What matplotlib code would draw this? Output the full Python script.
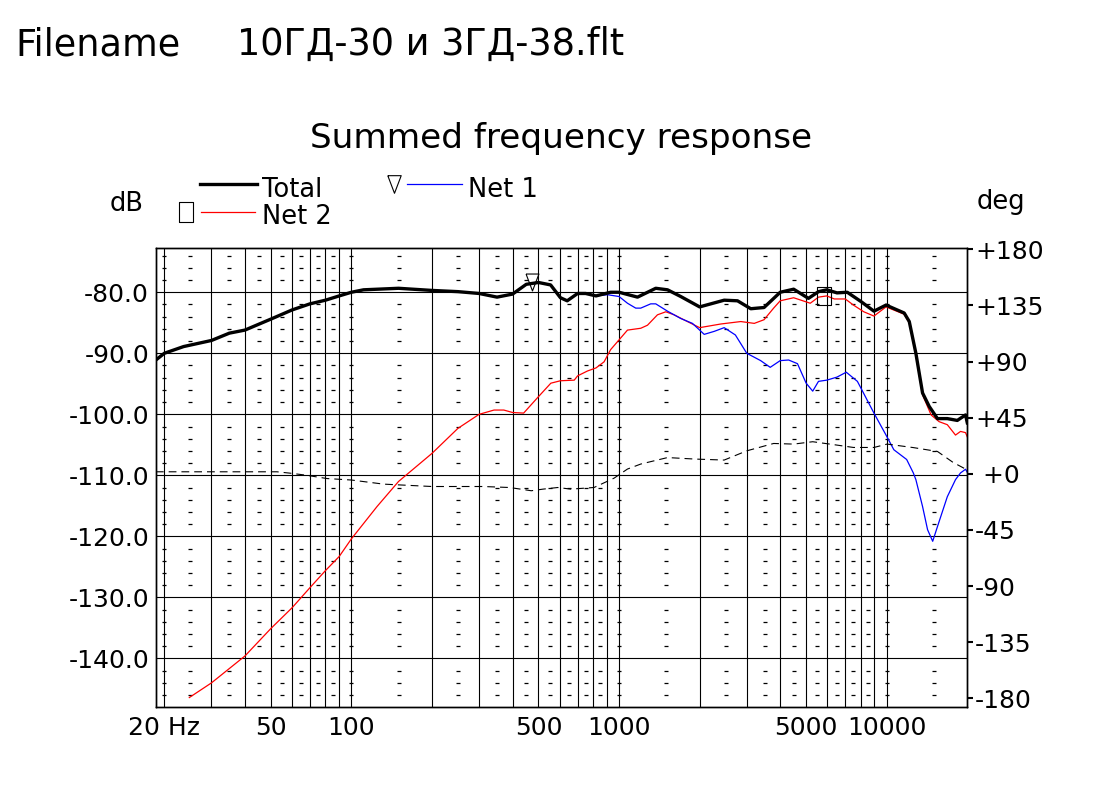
import numpy as np
import matplotlib

matplotlib.use('Agg')
import matplotlib.pyplot as plt

W, H = 1100, 794

# frequency response data (Hz, dB)
total_f = [18.6, 20, 23.6, 30, 35, 40, 50, 60, 70, 80, 90, 100, 111, 150, 200, 250,
           300, 350, 400, 450, 500, 555, 604, 640, 700, 750, 820, 930, 1000, 1172,
           1371, 1517, 1700, 2000, 2470, 2770, 3105, 3480, 4000, 4490, 5100, 5560,
           5970, 6520, 7120, 8000, 8960, 9940, 11620, 12140, 12850, 13610, 14410,
           15470, 16840, 18350, 19700, 20000]
total_db = [-91.1, -90.0, -88.9, -87.9, -86.7, -86.2, -84.4, -82.9, -81.9, -81.3,
            -80.6, -80.0, -79.6, -79.35, -79.7, -79.9, -80.2, -80.8, -80.3, -78.7,
            -78.4, -78.8, -80.9, -81.4, -80.2, -80.2, -80.6, -80.0, -80.0, -80.8,
            -79.35, -79.6, -80.7, -82.4, -81.3, -81.4, -82.7, -82.5, -80.0, -79.5,
            -81.0, -79.9, -79.6, -80.1, -80.0, -81.5, -83.1, -82.1, -83.4, -84.8,
            -90.0, -96.5, -98.7, -100.7, -100.7, -101.0, -100.1, -101.4]

# Net 1 follows Total below ~900 Hz
net1_hi_f = [905, 1000, 1075, 1154, 1205, 1313, 1371, 1517, 1700, 1880, 2080, 2270,
             2470, 2720, 3000, 3380, 3670, 4000, 4300, 4640, 5000, 5290, 5560, 5970,
             6520, 7060, 7770, 8960, 9940, 10630, 11870, 12570, 12850, 13610, 14210,
             14850, 15470, 16840, 18070, 18870, 19700, 20000]
net1_hi_db = [-80.4, -80.7, -81.8, -82.6, -82.6, -81.9, -81.9, -83.1, -84.3, -85.1,
              -86.9, -86.4, -85.8, -87.0, -90.0, -91.2, -92.3, -91.2, -91.1, -91.7,
              -94.9, -96.2, -94.6, -94.4, -93.9, -93.1, -94.6, -99.8, -103.4, -105.8,
              -107.4, -109.6, -110.7, -115.1, -118.9, -120.8, -118.4, -113.5, -110.7,
              -109.6, -109.0, -109.5]

net2_f = [24.8, 30, 40, 50, 60, 70, 80, 90, 100, 124.7, 150, 200, 250, 300, 341, 371,
          400, 440, 500, 556, 604, 680, 700, 762, 820, 879, 930, 1000, 1075, 1205,
          1277, 1391, 1495, 1606, 1800, 2000, 2400, 2850, 3200, 3480, 3780, 4000,
          4490, 5180, 5560, 5970, 6370, 7000, 7510, 8210, 8960, 9940, 11620, 12140,
          12850, 13610, 14650, 15690, 16840, 18070, 18870, 19700, 20000]
net2_db = [-146.4, -144.0, -139.6, -135.1, -131.7, -128.4, -125.6, -123.3, -120.4,
           -115.1, -111.0, -106.4, -102.3, -100.0, -99.3, -99.3, -99.7, -99.8, -97.1,
           -94.9, -94.5, -94.4, -93.7, -92.9, -92.4, -91.4, -89.4, -87.8, -86.2,
           -85.9, -85.4, -83.7, -83.2, -83.7, -84.8, -85.8, -85.2, -84.8, -85.1,
           -84.5, -82.6, -81.4, -80.9, -81.8, -80.8, -80.6, -81.1, -81.1, -82.1,
           -83.2, -83.9, -82.4, -83.6, -85.0, -90.3, -96.8, -100.1, -101.2, -101.7,
           -103.4, -102.8, -103.0, -103.7]

# phase (deg), dashed curve on the right axis
phase_f = [18.6, 52.7, 59, 67, 81, 100, 132, 200, 310, 390, 470, 520, 590, 660, 806,
           958, 1075, 1205, 1517, 1920, 2470, 3000, 3780, 4490, 5290, 6370, 7510,
           8960, 10030, 12570, 15470, 17700, 19700, 20000]
phase_deg = [1.6, 1.6, 0.5, -1.0, -3.8, -5.0, -8.3, -10.2, -10.2, -11.0, -13.6,
             -12.3, -11.0, -12.3, -11.0, -3.5, 3.8, 7.8, 13.0, 11.8, 11.0, 18.4, 24.3,
             23.8, 25.7, 23.3, 21.1, 21.1, 23.8, 21.0, 17.9, 9.1, 3.8, 3.0]

net1_marker_f = 473
net2_marker_f = 5830

x_ticks = [20, 50, 100, 500, 1000, 5000, 10000]
x_labels = ['20 Hz', '50', '100', '500', '1000', '5000', '10000']
db_ticks = [-80, -90, -100, -110, -120, -130, -140]
db_labels = ['%.1f' % v for v in db_ticks]
deg_ticks = [180, 135, 90, 45, 0, -45, -90, -135, -180]
deg_labels = ['+180', '+135', '+90', '+45', ' +0', '-45', '-90', '-135', '-180']

net1_f = [f for f in total_f if f < 900] + net1_hi_f
net1_db = [d for f, d in zip(total_f, total_db) if f < 900] + net1_hi_db


def fx(x):
    return x / W


def fy(y):
    return 1 - y / H


fig = plt.figure(figsize=(11, 7.94), dpi=100)
ax = fig.add_axes([fx(155.7), fy(707.3), (967.3 - 155.7) / W, (707.3 - 248) / H])
ax.set_xscale('log')
ax.set_xlim(18.57, 20000)
ax.set_ylim(-148.0, -72.75)

grid_f = [k * 10 ** d for d in range(1, 5) for k in range(1, 10) if 20 <= k * 10 ** d <= 10000]
ax.set_xticks(grid_f, minor=True)
ax.set_xticks(x_ticks)
ax.set_xticklabels(x_labels)
ax.set_yticks(db_ticks)
ax.set_yticklabels(db_labels)
ax.tick_params(axis='x', which='both', length=0, pad=6, labelsize=18)
ax.tick_params(axis='x', which='minor', labelbottom=False)
ax.tick_params(axis='y', length=0, pad=4.8, labelsize=18)
ax.grid(True, which='both', axis='x', color='black', lw=0.8)
ax.grid(True, which='major', axis='y', color='black', lw=0.8)
ax.set_axisbelow(True)

# small dash marks of the minor grid
dash_f = [k * 10 ** d + 0.5 * 10 ** d for d in range(1, 5) for k in range(1, 9)]
dash_f = [f for f in dash_f if 18.6 < f < 20000] + [20, 100, 1000, 10000]
dash_db = [v for v in range(-146, -73, 2) if v % 10 != 0]
DX, DY = np.meshgrid(dash_f, dash_db)
ax.plot(DX.ravel(), DY.ravel(), ls='none', marker='_', ms=2.6, mew=0.9, color='black')

ax.plot(net2_f, net2_db, color='#ff0000', lw=0.9)
ax.plot(net1_f, net1_db, color='#0000ff', lw=0.9)
ax.plot(total_f, total_db, color='black', lw=2.4)

tri = [(-0.38, 0.5), (0.38, 0.5), (0, -0.5), (-0.38, 0.5)]
box = [(-0.41, -0.5), (0.41, -0.5), (0.41, 0.5), (-0.41, 0.5), (-0.41, -0.5)]
m1 = np.interp(np.log10(net1_marker_f), np.log10(net1_f), net1_db)
m2 = np.interp(np.log10(net2_marker_f), np.log10(net2_f), net2_db)
ax.plot([net1_marker_f], [m1 + 0.3], ls='none', marker=tri, ms=12.2,
        mfc='none', mec='black', mew=0.8)
ax.plot([net2_marker_f], [m2], ls='none', marker=box, ms=13,
        mfc='none', mec='black', mew=0.8)

for s in ax.spines.values():
    s.set_color('black')
    s.set_linewidth(1)

ax2 = ax.twinx()
ax2.set_ylim(-187.2, 181.0)
ax2.plot(phase_f, phase_deg, color='black', lw=0.8, dashes=(7, 4.5))
ax2.set_yticks(deg_ticks)
ax2.set_yticklabels(deg_labels)
ax2.tick_params(axis='y', direction='out', length=4, width=1.5, pad=1.5, labelsize=18)
for s in ax2.spines.values():
    s.set_color('black')
    s.set_linewidth(1)

# legend and headings in pixel coords
lax = fig.add_axes([0, 0, 1, 1])
lax.set_xlim(0, W)
lax.set_ylim(H, 0)
lax.axis('off')
lax.plot([200, 256.7], [184, 184], color='black', lw=2.4)
lax.plot([201, 255], [212.3, 212.3], color='#ff0000', lw=0.9)
lax.plot([406.7, 461.7], [184.3, 184.3], color='#0000ff', lw=0.9)
lax.plot([393.5], [184], ls='none', marker=tri, ms=12.7, mfc='none', mec='black', mew=0.8)
lax.plot([186], [212.2], ls='none', marker=[(-0.36, -0.5), (0.36, -0.5), (0.36, 0.5),
                                             (-0.36, 0.5), (-0.36, -0.5)],
         ms=13.7, mfc='none', mec='black', mew=0.8)

fig.text(fx(15), fy(55), 'Filename', fontsize=26.4, va='baseline')
fig.text(fx(237), fy(55), '10ГД-30 и 3ГД-38.flt', fontsize=26.4, va='baseline')
fig.text(fx(561), fy(148.3), 'Summed frequency response', fontsize=24.7,
         ha='center', va='baseline')
fig.text(fx(262), fy(196.7), 'Total', fontsize=18.5, va='baseline')
fig.text(fx(262), fy(224), 'Net 2', fontsize=18.5, va='baseline')
fig.text(fx(468.5), fy(196.7), 'Net 1', fontsize=18.5, va='baseline')
fig.text(fx(109.5), fy(210.7), 'dB', fontsize=18.5, va='baseline')
fig.text(fx(977), fy(209), 'deg', fontsize=18.5, va='baseline')

fig.savefig('out.png', dpi=100)
